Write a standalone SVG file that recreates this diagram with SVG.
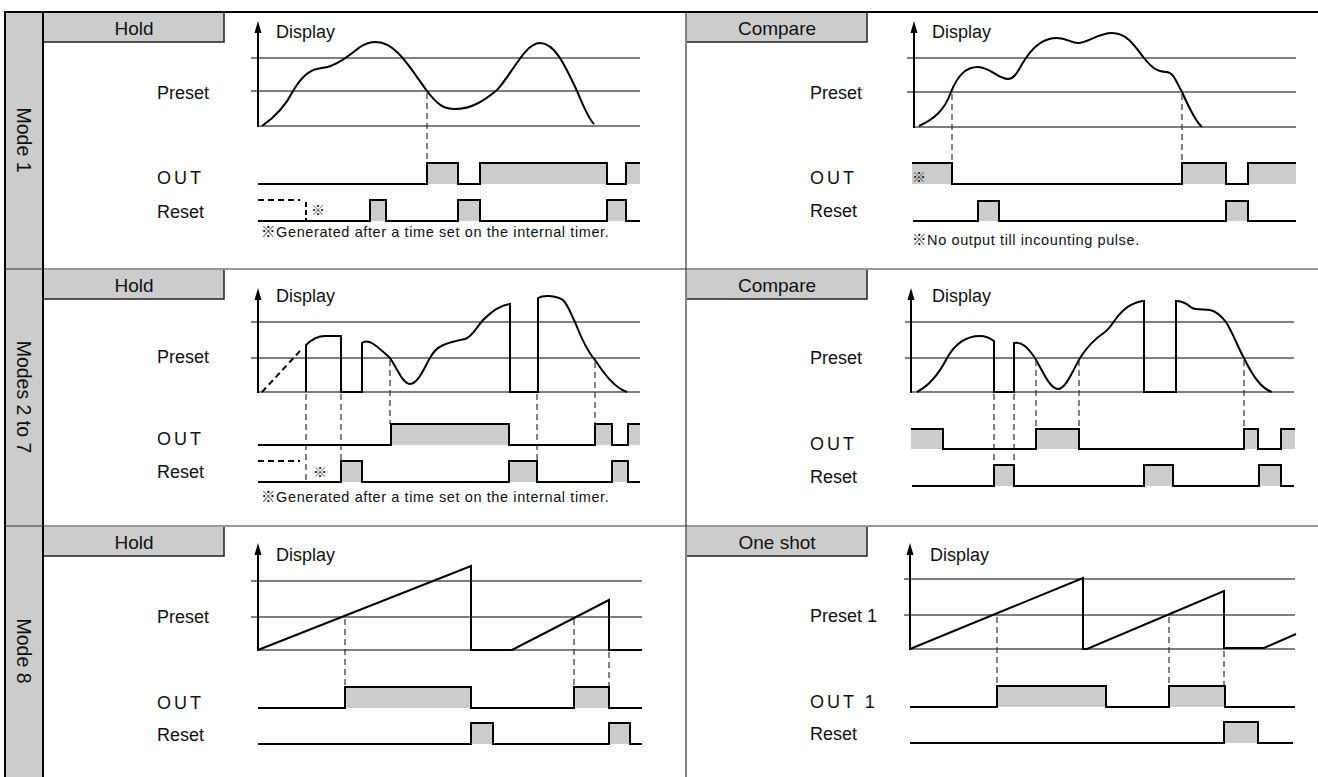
<svg xmlns="http://www.w3.org/2000/svg" width="1318" height="777" viewBox="0 0 1318 777">
<defs>
<style>
.t{font-family:"Liberation Sans",Arial,"Noto Sans CJK JP",sans-serif;font-size:18px;fill:#111}
.tab{font-family:"Liberation Sans",Arial,sans-serif;font-size:19px;fill:#111;text-anchor:middle}
.mode{font-family:"Liberation Sans",Arial,sans-serif;font-size:19.5px;fill:#111;text-anchor:middle}
.out{letter-spacing:3px}
.note{font-family:"Liberation Sans",Arial,"Noto Sans CJK JP",sans-serif;font-size:14.5px;letter-spacing:0.6px;fill:#111}
.kome{font-family:"Noto Sans CJK JP","DejaVu Sans",sans-serif;font-size:14px;fill:#111}
.w{fill:none;stroke:#000;stroke-width:2;stroke-linejoin:miter}
.g{stroke:#000;stroke-width:1;fill:none}
.b{stroke:#555;stroke-width:1.6;fill:none}
.d{stroke:#333;stroke-width:1.2;stroke-dasharray:6 4;fill:none}
.dr{stroke:#000;stroke-width:2;stroke-dasharray:6 4;fill:none}
.f{fill:#cccccc;stroke:none}
.ax{stroke:#000;stroke-width:2}
.tabr{fill:#cccccc;stroke:none}
.tabl{stroke:#222;stroke-width:1.5;fill:none}
.sep{stroke:#333;stroke-width:1.2}
</style>
</defs>

<g id="frame">
<rect x="5" y="12" width="38" height="765" fill="#cccccc"/>
<line x1="4" y1="12" x2="1318" y2="12" stroke="#000" stroke-width="2"/>
<line x1="5" y1="12" x2="5" y2="777" stroke="#000" stroke-width="2"/>
<line x1="43" y1="12" x2="43" y2="777" stroke="#000" stroke-width="2"/>
<line class="sep" x1="5" y1="269" x2="1318" y2="269"/>
<line class="sep" x1="5" y1="526" x2="1318" y2="526"/>
<line class="sep" x1="686" y1="12" x2="686" y2="777"/>
<text class="mode" transform="translate(16.5,140) rotate(90)">Mode 1</text>
<text class="mode" transform="translate(16.5,397) rotate(90)">Modes 2 to 7</text>
<text class="mode" transform="translate(16.5,651) rotate(90)">Mode 8</text>
</g>

<!-- ROW 1 LEFT -->
<g id="r1-hold">
<rect class="tabr" x="44" y="13" width="180" height="29"/>
<polyline class="tabl" points="224,13 224,42 44,42"/>
<text class="tab" x="134" y="35">Hold</text>
<line class="g" x1="251" y1="58" x2="640" y2="58"/>
<line class="g" x1="251" y1="91" x2="640" y2="91"/>
<line class="b" x1="258" y1="126" x2="640" y2="126"/>
<line class="ax" x1="258" y1="127" x2="258" y2="31"/>
<polygon points="258,21 254.5,33 261.5,33"/>
<text class="t" x="276" y="38">Display</text>
<text class="t" x="157" y="99">Preset</text>
<text class="t out" x="157" y="184">OUT</text>
<text class="t" x="157" y="218">Reset</text>
<path class="w" d="M262,126 C278,115 287,103 293,91 C302,76 310,69 322,68 C335,67 350,55 360,47 C366,43 370,42 376,42 C396,42 410,68 427,91 C437,104 443,109 455,109 C472,109 485,100 497,90 C512,74 525,43 540,43 C556,43 567,70 577,91 C584,107 588,118 594,124"/>
<line class="d" x1="427" y1="93" x2="427" y2="163"/>
<rect class="f" x="427" y="163" width="31" height="21"/>
<rect class="f" x="480" y="163" width="127" height="21"/>
<rect class="f" x="626" y="163" width="14" height="21"/>
<polyline class="w" points="258,184 427,184 427,163 458,163 458,184 480,184 480,163 607,163 607,184 626,184 626,163 640,163"/>
<rect class="f" x="370" y="200" width="16" height="21"/>
<rect class="f" x="458" y="200" width="22" height="21"/>
<rect class="f" x="607" y="200" width="19" height="21"/>
<polyline class="w" points="258,221 370,221 370,200 386,200 386,221 458,221 458,200 480,200 480,221 607,221 607,200 626,200 626,221 640,221"/>
<polyline class="dr" points="258,200 300,200"/>
<line x1="306" y1="202" x2="306" y2="221" stroke="#000" stroke-width="2" stroke-dasharray="5 3"/>
<text class="kome" x="311" y="215">※</text>
<text class="note" x="261" y="237">※Generated after a time set on the internal timer.</text>
</g>

<!-- ROW 1 RIGHT -->
<g id="r1-compare">
<rect class="tabr" x="687" y="13" width="180" height="29"/>
<polyline class="tabl" points="867,13 867,42 687,42"/>
<text class="tab" x="777" y="35">Compare</text>
<line class="g" x1="907" y1="58" x2="1296" y2="58"/>
<line class="g" x1="907" y1="92" x2="1296" y2="92"/>
<line class="b" x1="914" y1="127" x2="1296" y2="127"/>
<line class="ax" x1="914" y1="128" x2="914" y2="31"/>
<polygon points="914,21 910.5,33 917.5,33"/>
<text class="t" x="932" y="38">Display</text>
<text class="t" x="810" y="99">Preset</text>
<text class="t out" x="810" y="184">OUT</text>
<text class="t" x="810" y="217">Reset</text>
<path class="w" d="M919,126 C932,120 944,112 951,92 C958,75 966,67 978,67 C990,67 998,79 1008,79 C1016,79 1020,66 1026,58 C1034,46 1045,38 1057,38 C1067,38 1071,43 1078,43 C1088,43 1098,33 1112,33 C1128,33 1136,48 1144,58 C1152,68 1158,72 1166,72 C1174,72 1176,82 1182,92 C1190,110 1196,122 1202,127"/>
<line class="d" x1="952" y1="94" x2="952" y2="163"/>
<line class="d" x1="1182" y1="94" x2="1182" y2="163"/>
<rect class="f" x="912" y="163" width="40" height="21"/>
<rect class="f" x="1182" y="163" width="44" height="21"/>
<rect class="f" x="1248" y="163" width="48" height="21"/>
<polyline class="w" points="912,163 952,163 952,184 1182,184 1182,163 1226,163 1226,184 1248,184 1248,163 1296,163"/>
<text class="kome" x="912" y="182">※</text>
<rect class="f" x="978" y="201" width="21" height="20"/>
<rect class="f" x="1226" y="201" width="22" height="20"/>
<polyline class="w" points="913,221 978,221 978,201 999,201 999,221 1226,221 1226,201 1248,201 1248,221 1296,221"/>
<text class="note" x="912" y="245">※No output till incounting pulse.</text>
</g>

<!-- ROW 2 LEFT -->
<g id="r2-hold">
<rect class="tabr" x="44" y="270" width="180" height="29"/>
<polyline class="tabl" points="224,270 224,299 44,299"/>
<text class="tab" x="134" y="292">Hold</text>
<line class="g" x1="251" y1="322" x2="640" y2="322"/>
<line class="g" x1="251" y1="358" x2="640" y2="358"/>
<line class="b" x1="258" y1="392" x2="640" y2="392"/>
<line class="ax" x1="258" y1="393" x2="258" y2="298"/>
<polygon points="258,288 254.5,300 261.5,300"/>
<text class="t" x="276" y="302">Display</text>
<text class="t" x="157" y="363">Preset</text>
<text class="t out" x="157" y="445">OUT</text>
<text class="t" x="157" y="478">Reset</text>
<line class="dr" x1="262" y1="392" x2="300" y2="351"/>
<path class="w" d="M306,392 L306,345 C312,339 318,336 325,336 L341,336 L341,392 L362,392 L362,343 C368,338 376,345 390,358 C398,370 403,384 410,384 C418,384 424,368 430,358 C436,346 445,343 465,339 C472,337 476,328 483,320 C492,311 500,305 510,304 L510,392 L538,392 L538,298 C543,295 555,295 563,300 C568,305 570,312 575,322 C582,340 588,352 595,360 C605,375 615,388 627,392"/>
<line class="d" x1="306" y1="394" x2="306" y2="482"/>
<line class="d" x1="341" y1="394" x2="341" y2="461"/>
<line class="d" x1="390" y1="360" x2="390" y2="424"/>
<line class="d" x1="537" y1="394" x2="537" y2="461"/>
<line class="d" x1="595" y1="362" x2="595" y2="424"/>
<rect class="f" x="391" y="424" width="118" height="21"/>
<rect class="f" x="595" y="424" width="17" height="21"/>
<rect class="f" x="628" y="424" width="12" height="21"/>
<polyline class="w" points="258,445 391,445 391,424 509,424 509,445 595,445 595,424 612,424 612,445 628,445 628,424 640,424"/>
<rect class="f" x="341" y="461" width="21" height="21"/>
<rect class="f" x="509" y="461" width="28" height="21"/>
<rect class="f" x="612" y="461" width="16" height="21"/>
<polyline class="w" points="258,482 341,482 341,461 362,461 362,482 509,482 509,461 537,461 537,482 612,482 612,461 628,461 628,482 640,482"/>
<polyline class="dr" points="258,461 300,461"/>
<text class="kome" x="313" y="477">※</text>
<text class="note" x="261" y="502">※Generated after a time set on the internal timer.</text>
</g>

<!-- ROW 2 RIGHT -->
<g id="r2-compare">
<rect class="tabr" x="687" y="270" width="180" height="29"/>
<polyline class="tabl" points="867,270 867,299 687,299"/>
<text class="tab" x="777" y="292">Compare</text>
<line class="g" x1="905" y1="322" x2="1294" y2="322"/>
<line class="g" x1="905" y1="358" x2="1294" y2="358"/>
<line class="b" x1="911" y1="392" x2="1294" y2="392"/>
<line class="ax" x1="911" y1="393" x2="911" y2="298"/>
<polygon points="911,288 907.5,300 914.5,300"/>
<text class="t" x="932" y="302">Display</text>
<text class="t" x="810" y="364">Preset</text>
<text class="t out" x="810" y="450">OUT</text>
<text class="t" x="810" y="483">Reset</text>
<path class="w" d="M917,392 C930,385 940,372 947,358 C955,344 965,336 980,336 C986,336 990,338 994,341 L994,392 L1014,392 L1014,343 C1022,341 1028,348 1035,358 C1043,372 1050,389 1058,389 C1066,389 1073,370 1080,358 C1085,350 1093,340 1105,332 C1110,328 1112,324 1115,320 C1122,310 1132,302 1144,301 L1144,392 L1176,392 L1176,301 C1183,301 1187,304 1192,308 C1196,310 1205,309 1210,310 C1216,311 1222,317 1226,322 C1234,335 1238,348 1244,358 C1252,375 1262,389 1272,392"/>
<line class="d" x1="994" y1="394" x2="994" y2="486"/>
<line class="d" x1="1014" y1="394" x2="1014" y2="465"/>
<line class="d" x1="1036" y1="360" x2="1036" y2="429"/>
<line class="d" x1="1079" y1="360" x2="1079" y2="429"/>
<line class="d" x1="1244" y1="360" x2="1244" y2="429"/>
<rect class="f" x="911" y="429" width="32" height="20"/>
<rect class="f" x="1036" y="429" width="43" height="20"/>
<rect class="f" x="1244" y="429" width="14" height="20"/>
<rect class="f" x="1281" y="429" width="14" height="20"/>
<polyline class="w" points="911,429 943,429 943,449 1036,449 1036,429 1079,429 1079,449 1244,449 1244,429 1258,429 1258,449 1281,449 1281,429 1295,429"/>
<rect class="f" x="994" y="465" width="20" height="21"/>
<rect class="f" x="1144" y="465" width="29" height="21"/>
<rect class="f" x="1259" y="465" width="22" height="21"/>
<polyline class="w" points="912,486 994,486 994,465 1014,465 1014,486 1144,486 1144,465 1173,465 1173,486 1259,486 1259,465 1281,465 1281,486 1294,486"/>
</g>

<!-- ROW 3 LEFT -->
<g id="r3-hold">
<rect class="tabr" x="44" y="527" width="180" height="29"/>
<polyline class="tabl" points="224,527 224,556 44,556"/>
<text class="tab" x="134" y="549">Hold</text>
<line class="g" x1="251" y1="581" x2="642" y2="581"/>
<line class="g" x1="251" y1="617" x2="642" y2="617"/>
<line class="b" x1="258" y1="650" x2="642" y2="650"/>
<line class="ax" x1="258" y1="651" x2="258" y2="553"/>
<polygon points="258,543 254.5,555 261.5,555"/>
<text class="t" x="276" y="561">Display</text>
<text class="t" x="157" y="623">Preset</text>
<text class="t out" x="157" y="709">OUT</text>
<text class="t" x="157" y="741">Reset</text>
<polyline class="w" points="258,650 471,566 471,650 512,650 609,600 609,650 642,650"/>
<line class="d" x1="345" y1="619" x2="345" y2="687"/>
<line class="d" x1="574" y1="619" x2="574" y2="687"/>
<line class="d" x1="609" y1="652" x2="609" y2="687"/>
<rect class="f" x="345" y="687" width="126" height="21"/>
<rect class="f" x="574" y="687" width="35" height="21"/>
<polyline class="w" points="258,708 345,708 345,687 471,687 471,708 574,708 574,687 609,687 609,708 642,708"/>
<rect class="f" x="471" y="723" width="22" height="21"/>
<rect class="f" x="609" y="723" width="21" height="21"/>
<polyline class="w" points="258,744 471,744 471,723 493,723 493,744 609,744 609,723 630,723 630,744 642,744"/>
</g>

<!-- ROW 3 RIGHT -->
<g id="r3-oneshot">
<rect class="tabr" x="687" y="527" width="180" height="29"/>
<polyline class="tabl" points="867,527 867,556 687,556"/>
<text class="tab" x="777" y="549">One shot</text>
<line class="g" x1="904" y1="579" x2="1295" y2="579"/>
<line class="g" x1="904" y1="615" x2="1295" y2="615"/>
<line class="b" x1="910" y1="649" x2="1295" y2="649"/>
<line class="ax" x1="910" y1="650" x2="910" y2="553"/>
<polygon points="910,543 906.5,555 913.5,555"/>
<text class="t" x="930" y="561">Display</text>
<text class="t" x="810" y="622">Preset 1</text>
<text class="t out" x="810" y="708">OUT 1</text>
<text class="t" x="810" y="740">Reset</text>
<polyline class="w" points="910,649 1083,578 1083,649 1087,649 1224,591 1224,648 1264,648 1296,634"/>
<line class="d" x1="997" y1="617" x2="997" y2="686"/>
<line class="d" x1="1169" y1="617" x2="1169" y2="686"/>
<line class="d" x1="1224" y1="651" x2="1224" y2="686"/>
<rect class="f" x="997" y="686" width="109" height="21"/>
<rect class="f" x="1169" y="686" width="56" height="21"/>
<polyline class="w" points="910,707 997,707 997,686 1106,686 1106,707 1169,707 1169,686 1225,686 1225,707 1295,707"/>
<rect class="f" x="1224" y="722" width="34" height="21"/>
<polyline class="w" points="910,743 1224,743 1224,722 1258,722 1258,743 1293,743"/>
</g>
</svg>
